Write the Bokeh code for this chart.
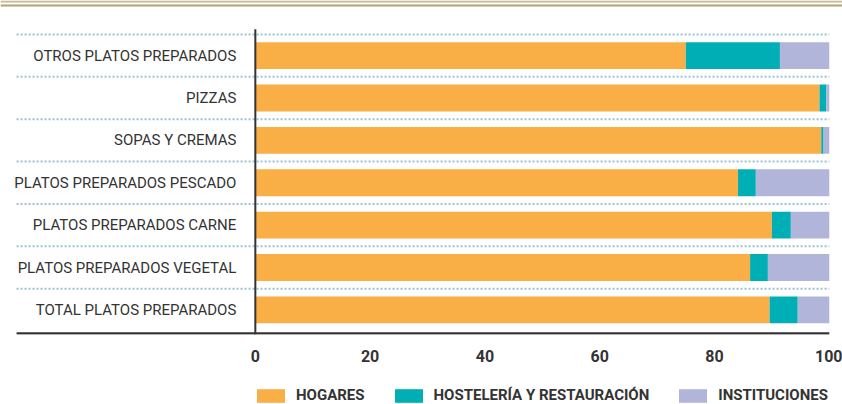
from bokeh.plotting import figure
from bokeh.layouts import column
from bokeh.models import Range1d, FixedTicker, Span, Legend, LegendItem, ColumnDataSource
from bokeh.core.properties import value
from bokeh.embed import file_html
from bokeh.resources import INLINE

# ---- data ----
categories = ["OTROS PLATOS PREPARADOS", "PIZZAS", "SOPAS Y CREMAS",
              "PLATOS PREPARADOS PESCADO", "PLATOS PREPARADOS CARNE",
              "PLATOS PREPARADOS VEGETAL", "TOTAL PLATOS PREPARADOS"]
hogares = [75.0, 98.3, 98.6, 84.1, 90.0, 86.2, 89.6]
hosteleria = [16.4, 1.2, 0.4, 3.1, 3.3, 3.1, 4.9]
instituciones = [8.6, 0.5, 1.0, 12.8, 6.7, 10.7, 5.5]
series_labels = ["HOGARES", "HOSTELERÍA Y RESTAURACIÓN", "INSTITUCIONES"]
x_ticks = [0, 20, 40, 60, 80, 100]

# ---- styling ----
colors = ["#F9AE46", "#00AEB5", "#B2B5DA"]
FONT = "Roboto"
TXT = "#333333"

n = len(categories)
ypos = [n - 1 - i for i in range(n)]
source = ColumnDataSource(dict(y=ypos, cat=categories, h=hogares, s=hosteleria, i=instituciones))

X0, X1 = -44.4, 102.3
Y0, Y1 = -0.58, 7.30

p = figure(width=842, height=364, x_range=Range1d(X0, X1), y_range=Range1d(Y0, Y1),
           output_backend="svg", toolbar_location=None, y_axis_location=None,
           min_border_left=0, min_border_right=0, min_border_top=0, min_border_bottom=28)
p.outline_line_color = None
p.xgrid.visible = False
p.ygrid.visible = False

ypx = 336.0 / (Y1 - Y0)  # pixels per y unit
# decorative top rules
p.add_layout(Span(location=Y1 - 1.0 / ypx, dimension="width", line_color="#C8B894", line_width=2))
p.add_layout(Span(location=Y1 - 5.0 / ypx, dimension="width", line_color="#B4A178", line_width=2))

# dotted separators
x_left = -41.6
sep_y = [k + 0.5 for k in range(n)]
p.segment(x0=[x_left] * n, y0=sep_y, x1=[100] * n, y1=sep_y,
          line_color="#9DC3D4", line_width=2, line_dash="2 2")

# stacked bars
rs = p.hbar_stack(["h", "s", "i"], y="y", height=0.633, color=colors, source=source,
                  line_color=None)

# axis lines
p.segment(x0=[0], y0=[Y0], x1=[0], y1=[Y1 - 29.0 / ypx], line_color="#333333", line_width=2)
p.segment(x0=[x_left], y0=[Y0 + 1.0 / ypx], x1=[100], y1=[Y0 + 1.0 / ypx],
          line_color="#333333", line_width=2.5)

# category labels
p.text(x=0, y="y", text="cat", source=source, x_offset=-19, text_align="right",
       text_baseline="middle", text_font=value(FONT), text_font_size="15px", text_color=TXT)

# x axis
ax = p.xaxis[0]
ax.ticker = FixedTicker(ticks=x_ticks)
ax.axis_line_color = None
ax.major_tick_line_color = None
ax.minor_tick_line_color = None
ax.major_label_standoff = 9
ax.major_label_text_font = FONT
ax.major_label_text_font_size = "16px"
ax.major_label_text_font_style = "bold"
ax.major_label_text_color = TXT

# legend strip (separate figure below the chart)
lg = figure(width=842, height=40, x_range=Range1d(0, 1), y_range=Range1d(0, 1),
            output_backend="svg", toolbar_location=None, x_axis_location=None,
            y_axis_location=None, min_border=0)
lg.outline_line_color = None
lg.xgrid.visible = False
lg.ygrid.visible = False
# off-range placeholder swatches, only used to draw the legend keys
swatches = [lg.hbar(y=[-10], left=[0], right=[1], height=1, fill_color=c, line_color=None)
            for c in colors]
legend = Legend(items=[LegendItem(label=lab, renderers=[r]) for lab, r in zip(series_labels, swatches)],
                orientation="horizontal", location=(253, 0), margin=0, padding=0,
                spacing=26, label_standoff=8, glyph_width=35, glyph_height=17,
                label_height=17, label_text_font=FONT, label_text_font_size="15px",
                label_text_font_style="bold", label_text_color=TXT,
                border_line_color=None, background_fill_alpha=0)
lg.add_layout(legend)

layout = column(p, lg, spacing=0)
open("out.html", "w").write(file_html(layout, INLINE))
